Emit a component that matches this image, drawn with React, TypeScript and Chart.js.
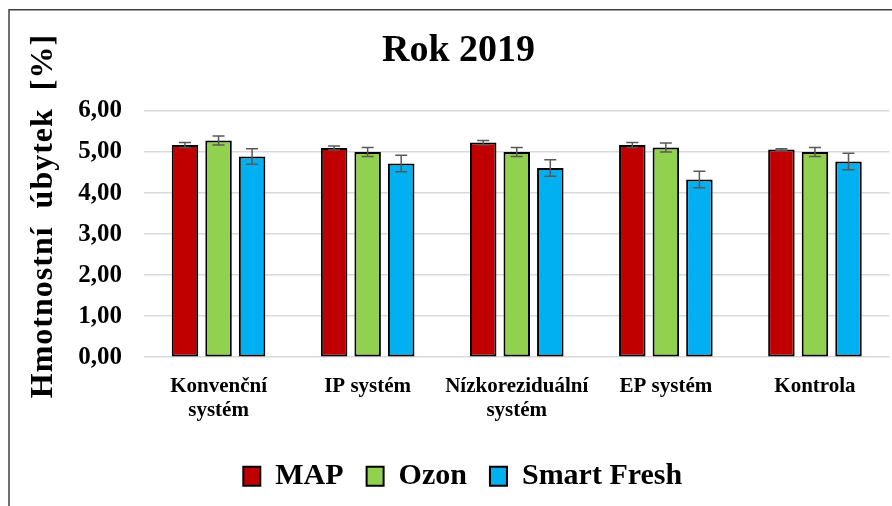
import React, { useEffect, useRef } from "react";
import { Chart, registerables } from "chart.js";

Chart.register(...registerables);

const categories: (string | string[])[] = [
  ["Konvenční", "systém"],
  "IP systém",
  ["Nízkoreziduální", "systém"],
  "EP systém",
  "Kontrola",
];
const seriesNames = ["MAP", "Ozon", "Smart Fresh"];
const mapValues = [5.17, 5.1, 5.23, 5.17, 5.06];
const mapErrors = [0.06, 0.05, 0.05, 0.06, 0.02];
const ozonValues = [5.28, 5.0, 5.0, 5.11, 5.0];
const ozonErrors = [0.11, 0.11, 0.11, 0.11, 0.11];
const smartFreshValues = [4.89, 4.72, 4.61, 4.33, 4.77];
const smartFreshErrors = [0.19, 0.2, 0.2, 0.2, 0.2];
const seriesColors = ["#C00000", "#92D050", "#00B0F0"];
const yMin = 0;
const yMax = 6;
const yStep = 1;
const chartTitle = "Rok 2019";
const yAxisTitle = "Hmotnostní  úbytek  [%]";

const FONT = "'Liberation Serif', 'Times New Roman', serif";

const errorBars = {
  id: "errorBars",
  afterDatasetsDraw(chart: any) {
    const ctx = chart.ctx;
    const yScale = chart.scales.y;
    ctx.save();
    ctx.strokeStyle = "#595959";
    ctx.lineWidth = 1.5;
    chart.data.datasets.forEach((ds: any, i: number) => {
      const meta = chart.getDatasetMeta(i);
      meta.data.forEach((el: any, j: number) => {
        const v = ds.data[j];
        const e = ds.errors[j];
        const x = el.x;
        const yt = yScale.getPixelForValue(v + e);
        const yb = yScale.getPixelForValue(v - e);
        const hw = 6;
        ctx.beginPath();
        ctx.moveTo(x, yt);
        ctx.lineTo(x, yb);
        ctx.moveTo(x - hw, yt);
        ctx.lineTo(x + hw, yt);
        ctx.moveTo(x - hw, yb);
        ctx.lineTo(x + hw, yb);
        ctx.stroke();
      });
    });
    ctx.restore();
  },
};

const decor = {
  id: "decor",
  beforeDraw(chart: any) {
    const ctx = chart.ctx;
    ctx.save();
    ctx.fillStyle = "#ffffff";
    ctx.fillRect(0, 0, chart.width, chart.height);
    ctx.strokeStyle = "#404040";
    ctx.lineWidth = 1.5;
    ctx.beginPath();
    ctx.moveTo(9, chart.height);
    ctx.lineTo(9, 9.75);
    ctx.lineTo(chart.width, 9.75);
    ctx.stroke();
    ctx.restore();
  },
  afterDraw(chart: any) {
    const ctx = chart.ctx;
    ctx.save();
    ctx.fillStyle = "#000000";
    ctx.textAlign = "center";
    ctx.textBaseline = "alphabetic";
    ctx.font = `bold 38px ${FONT}`;
    ctx.fillText(chartTitle, 458.5, 61);

    ctx.translate(52, 216);
    ctx.rotate(-Math.PI / 2);
    ctx.font = `bold 32px ${FONT}`;
    (ctx as any).letterSpacing = "1px";
    ctx.fillText(yAxisTitle, 0, 0);
    ctx.restore();
  },
};

export default function App() {
  const canvasRef = useRef<HTMLCanvasElement | null>(null);

  useEffect(() => {
    const canvas = canvasRef.current;
    if (!canvas) return;
    const valueSets = [mapValues, ozonValues, smartFreshValues];
    const errorSets = [mapErrors, ozonErrors, smartFreshErrors];
    const chart = new Chart(canvas, {
      type: "bar",
      data: {
        labels: categories,
        datasets: seriesNames.map((name, i) => ({
          label: name,
          data: valueSets[i],
          errors: errorSets[i],
          backgroundColor: seriesColors[i],
          borderColor: "#000000",
          borderWidth: 2,
          borderSkipped: false,
          categoryPercentage: 0.675,
          barPercentage: 0.79,
        })) as any,
      },
      options: {
        responsive: false,
        animation: false,
        devicePixelRatio: 1,
        layout: { padding: { top: 111, left: 36, right: 2.5, bottom: 4.8 } },
        plugins: {
          title: { display: false },
          tooltip: { enabled: false },
          legend: {
            position: "bottom",
            align: "center",
            labels: {
              boxWidth: 17,
              boxHeight: 19,
              padding: 23,
              color: "#000000",
              font: { family: FONT, size: 30, weight: "bold" },
            },
          },
        },
        scales: {
          x: {
            grid: { display: false, drawTicks: false },
            border: { display: false },
            ticks: {
              padding: 17,
              color: "#000000",
              font: { family: FONT, size: 21, weight: "bold", lineHeight: 1.15 },
              maxRotation: 0,
              autoSkip: false,
            },
            afterFit: (scale: any) => {
              scale.height = 81;
            },
          },
          y: {
            min: yMin,
            max: yMax,
            grid: { color: "#d9d9d9", lineWidth: 1.5, drawTicks: false },
            border: { display: false },
            ticks: {
              stepSize: yStep,
              padding: 22,
              color: "#000000",
              font: { family: FONT, size: 25, weight: "bold" },
              callback: (v: any) => Number(v).toFixed(2).replace(".", ","),
            },
            afterFit: (scale: any) => {
              scale.width = 108;
            },
          },
        },
      } as any,
      plugins: [decor, errorBars],
    });
    return () => chart.destroy();
  }, []);

  return (
    <div style={{ position: "fixed", left: 0, top: 0, width: 892, height: 506, background: "#fff" }}>
      <canvas ref={canvasRef} width={892} height={506} style={{ display: "block" }} />
    </div>
  );
}
